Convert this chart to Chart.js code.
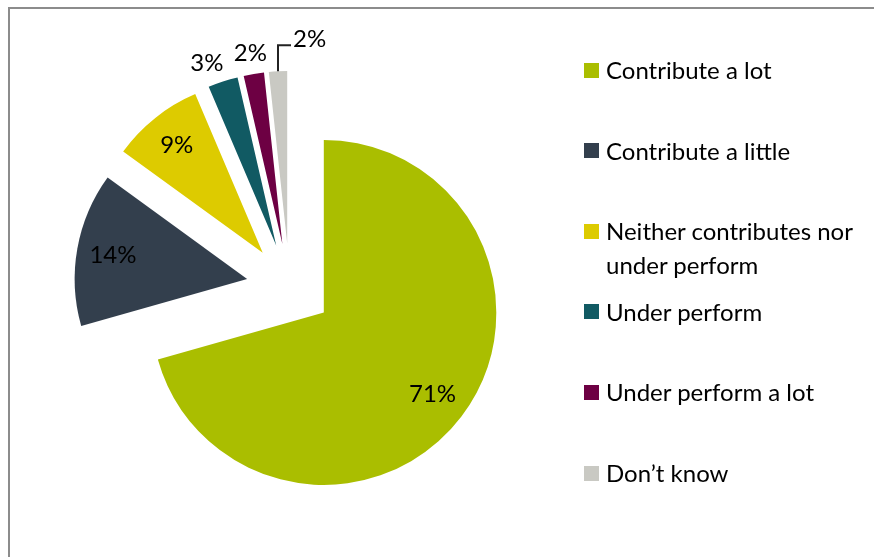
<!DOCTYPE html>
<html>
<head>
<meta charset="utf-8">
<script src="https://cdn.jsdelivr.net/npm/chart.js@4.4.1/dist/chart.umd.min.js"></script>
<style>
    html, body { margin: 0; padding: 0; background: #fff; }
    #wrap { position: relative; width: 874px; height: 557px; overflow: hidden; font-family: Lato, sans-serif; }
    #frame { position: absolute; left: 8px; top: 7px; width: 900px; height: 600px; border-left: 2px solid #8c8c8c; border-top: 2px solid #8c8c8c; }
    #GraphiquePie { position: absolute; left: 0; top: 0; }
    #legende { position: absolute; left: 584px; top: 0; }
    .item { position: absolute; left: 0; white-space: nowrap; font-size: 24px; line-height: 34px; color: #000; }
    .carre { position: absolute; left: 0; width: 15px; height: 15px; }
    .texte { position: absolute; left: 22px; top: 0; }
</style>
</head>
<body>
<div id="wrap">
    <div id="frame"></div>
    <canvas id="GraphiquePie" width="874" height="557"></canvas>
    <div id="legende"></div>
</div>
<script>
// donnees
var categories = ["Contribute a lot", "Contribute a little", "Neither contributes nor under perform", "Under perform", "Under perform a lot", "Don\u2019t know"];
var legendeLignes = [["Contribute a lot"], ["Contribute a little"], ["Neither contributes nor", "under perform"], ["Under perform"], ["Under perform a lot"], ["Don\u2019t know"]];
var valeurs = [70.6, 14.4, 8.6, 2.8, 1.9, 1.7];
var couleurs = ["#aabe00", "#333f4d", "#ddcb00", "#115a63", "#6d0043", "#c9c9c3"];

var eclatement = 43;
var rayonEtiquette = [0.79, 0.79, 0.80, 1.13, 1.12, 0];
var decalageAngle = [0, 0, 0, -0.05, 0, 0];

// chaque part est decalee vers l'exterieur le long de sa bissectrice
var pluginEclate = {
    id: 'eclate',
    afterDatasetUpdate: function (chart, args) {
        var meta = chart.getDatasetMeta(args.index);
        meta.data.forEach(function (arc) {
            var milieu = (arc.startAngle + arc.endAngle) / 2;
            arc.x += Math.cos(milieu) * eclatement;
            arc.y += Math.sin(milieu) * eclatement;
        });
    }
};

var pluginEtiquettes = {
    id: 'etiquettes',
    afterDatasetsDraw: function (chart) {
        var ctx = chart.ctx;
        var meta = chart.getDatasetMeta(0);
        ctx.save();
        ctx.font = "24px Lato, sans-serif";
        ctx.fillStyle = "#000";
        ctx.textBaseline = "middle";
        meta.data.forEach(function (arc, i) {
            var texte = Math.round(valeurs[i]) + "%";
            var milieu = (arc.startAngle + arc.endAngle) / 2;
            if (rayonEtiquette[i] > 0) {
                var r = arc.outerRadius * rayonEtiquette[i];
                var a = milieu + decalageAngle[i];
                ctx.textAlign = "center";
                ctx.fillText(texte, arc.x + Math.cos(a) * r, arc.y + Math.sin(a) * r);
            } else {
                // petite part: ligne de rappel
                var x0 = arc.x + Math.cos(milieu) * arc.outerRadius;
                var y0 = arc.y + Math.sin(milieu) * arc.outerRadius;
                var y1 = y0 - 26;
                ctx.strokeStyle = "#222";
                ctx.lineWidth = 2;
                ctx.beginPath();
                ctx.moveTo(x0, y0);
                ctx.lineTo(x0, y1);
                ctx.lineTo(x0 + 13, y1);
                ctx.stroke();
                ctx.textAlign = "left";
                ctx.fillText(texte, x0 + 15, y1 - 6);
            }
        });
        ctx.restore();
    }
};

var ctx = document.getElementById('GraphiquePie').getContext('2d');

var graphique = new Chart(ctx, {
    type: 'pie',
    data: {
        labels: categories,
        datasets: [
            {
                data: valeurs,
                backgroundColor: couleurs,
                borderWidth: 0
            }
        ]
    },
    options: {
        responsive: false,
        animation: false,
        events: [],
        radius: 172.5,
        layout: { padding: { left: 0, right: 295, top: 16, bottom: 0 } },
        plugins: {
            legend: { display: false },
            tooltip: { enabled: false }
        }
    },
    plugins: [pluginEclate, pluginEtiquettes]
});

// legende a droite
var legende = document.getElementById('legende');
categories.forEach(function (nom, i) {
    var centre = 70 + i * 80.6;
    var item = document.createElement('div');
    item.className = 'item';
    item.style.top = (centre - 17) + 'px';
    var carre = document.createElement('div');
    carre.className = 'carre';
    carre.style.background = couleurs[i];
    carre.style.top = '9.5px';
    item.appendChild(carre);
    var texte = document.createElement('div');
    texte.className = 'texte';
    texte.innerHTML = legendeLignes[i].join('<br>');
    item.appendChild(texte);
    legende.appendChild(item);
});
</script>
</body>
</html>
